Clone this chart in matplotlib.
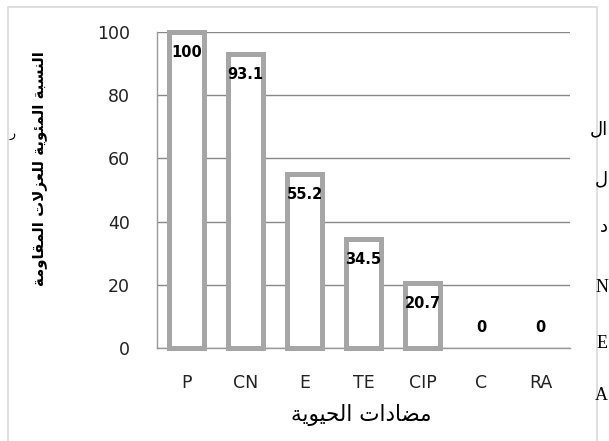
import matplotlib
matplotlib.use("Agg")
import matplotlib.pyplot as plt
from matplotlib.patches import Rectangle

categories = ["P", "CN", "E", "TE", "CIP", "C", "RA"]
resistance_pct = [100, 93.1, 55.2, 34.5, 20.7, 0, 0]
y_ticks = [0, 20, 40, 60, 80, 100]
x_title = "مضادات الحيوية"
y_title = "النسبة المئوية للعزلات المقاومة"
side_fragments = ["ال", "ل", "د", "N", "E", "A"]

# contextual forms: isolated, final, initial, medial
FORMS = {
    "ا": ("\ufe8d", "\ufe8e", None, None),
    "ب": ("\ufe8f", "\ufe90", "\ufe91", "\ufe92"),
    "ة": ("\ufe93", "\ufe94", None, None),
    "ت": ("\ufe95", "\ufe96", "\ufe97", "\ufe98"),
    "ح": ("\ufea1", "\ufea2", "\ufea3", "\ufea4"),
    "د": ("\ufea9", "\ufeaa", None, None),
    "ز": ("\ufeaf", "\ufeb0", None, None),
    "س": ("\ufeb1", "\ufeb2", "\ufeb3", "\ufeb4"),
    "ض": ("\ufebd", "\ufebe", "\ufebf", "\ufec0"),
    "ع": ("\ufec9", "\ufeca", "\ufecb", "\ufecc"),
    "ق": ("\ufed5", "\ufed6", "\ufed7", "\ufed8"),
    "ل": ("\ufedd", "\ufede", "\ufedf", "\ufee0"),
    "م": ("\ufee1", "\ufee2", "\ufee3", "\ufee4"),
    "ن": ("\ufee5", "\ufee6", "\ufee7", "\ufee8"),
    "و": ("\ufeed", "\ufeee", None, None),
    "ي": ("\ufef1", "\ufef2", "\ufef3", "\ufef4"),
    "ئ": ("\ufe89", "\ufe8a", "\ufe8b", "\ufe8c"),
}


def shape_arabic(text):
    # tiny reshaper: pick joined glyph forms, then reverse for LTR drawing
    out = []
    chars = list(text)
    i = 0
    while i < len(chars):
        ch = chars[i]
        prev = chars[i - 1] if i > 0 else ""
        joins_prev = prev in FORMS and FORMS[prev][2] is not None
        if ch == "ل" and i + 1 < len(chars) and chars[i + 1] == "ا":
            out.append("\ufefc" if joins_prev else "\ufefb")
            i += 2
            continue
        if ch not in FORMS:
            out.append(ch)
            i += 1
            continue
        nxt = chars[i + 1] if i + 1 < len(chars) else ""
        joins_next = FORMS[ch][2] is not None and nxt in FORMS
        iso, fin, ini, med = FORMS[ch]
        if joins_prev and joins_next:
            out.append(med)
        elif joins_prev:
            out.append(fin)
        elif joins_next:
            out.append(ini)
        else:
            out.append(iso)
        i += 1
    return "".join(reversed(out))


W, H = 609, 441
fig = plt.figure(figsize=(W / 100, H / 100), dpi=100)
ax = fig.add_axes([157 / W, 1 - 348 / H, 413 / W, 316 / H])

# light frame of the chart object
fig.patches.append(Rectangle((8 / W, -0.05), 589 / W, 1.05 - 7 / H, transform=fig.transFigure,
                             fill=False, edgecolor="#d9d9d9", linewidth=1.2))

x = list(range(len(categories)))
edge_w = [3.6 if v > 0 else 0 for v in resistance_pct]
ax.bar(x, resistance_pct, width=0.58, color="white", edgecolor="#a6a6a6", linewidth=edge_w,
       zorder=3, clip_on=False)

for xi, val in zip(x, resistance_pct):
    off = 15 if val == 0 else -15
    ax.annotate(f"{val:g}", (xi, val), xytext=(0, off), textcoords="offset points",
                ha="center", va="center", fontsize=10.5, fontweight="bold", zorder=4)

ax.set_xlim(-0.5, len(categories) - 0.5)
ax.set_ylim(0, 100)
ax.set_yticks(y_ticks)
ax.set_xticks(x)
ax.set_xticklabels(categories)
ax.tick_params(axis="both", length=0, labelsize=12.5, colors="#222222")
ax.tick_params(axis="y", pad=19.5)
ax.tick_params(axis="x", pad=19)
ax.grid(axis="y", color="#888888", linewidth=1, zorder=0)
for side in ["top", "right"]:
    ax.spines[side].set_visible(False)
for side in ["left", "bottom"]:
    ax.spines[side].set_color("#999999")
    ax.spines[side].set_linewidth(1)

fig.text(40 / W, 1 - 169 / H, shape_arabic(y_title), rotation=90, ha="center", va="center",
         fontsize=10.8, fontweight="bold", family="DejaVu Sans")
fig.text(361 / W, 1 - 415 / H, shape_arabic(x_title), ha="center", va="center",
         fontsize=15.5, family="DejaVu Sans")

# cut-off text from the neighbouring page column
frag_y = [130, 180, 228, 288, 343, 395]
for frag, fy in zip(side_fragments, frag_y):
    txt = shape_arabic(frag) if frag[0] in FORMS else frag
    fig.text(608 / W, 1 - fy / H, txt, ha="right", va="center", fontsize=13,
             family=["Liberation Serif", "DejaVu Sans"])
fig.text(13 / W, 1 - 133 / H, "\ufead", ha="center", va="center", fontsize=9)

fig.savefig("out.png", dpi=100)
